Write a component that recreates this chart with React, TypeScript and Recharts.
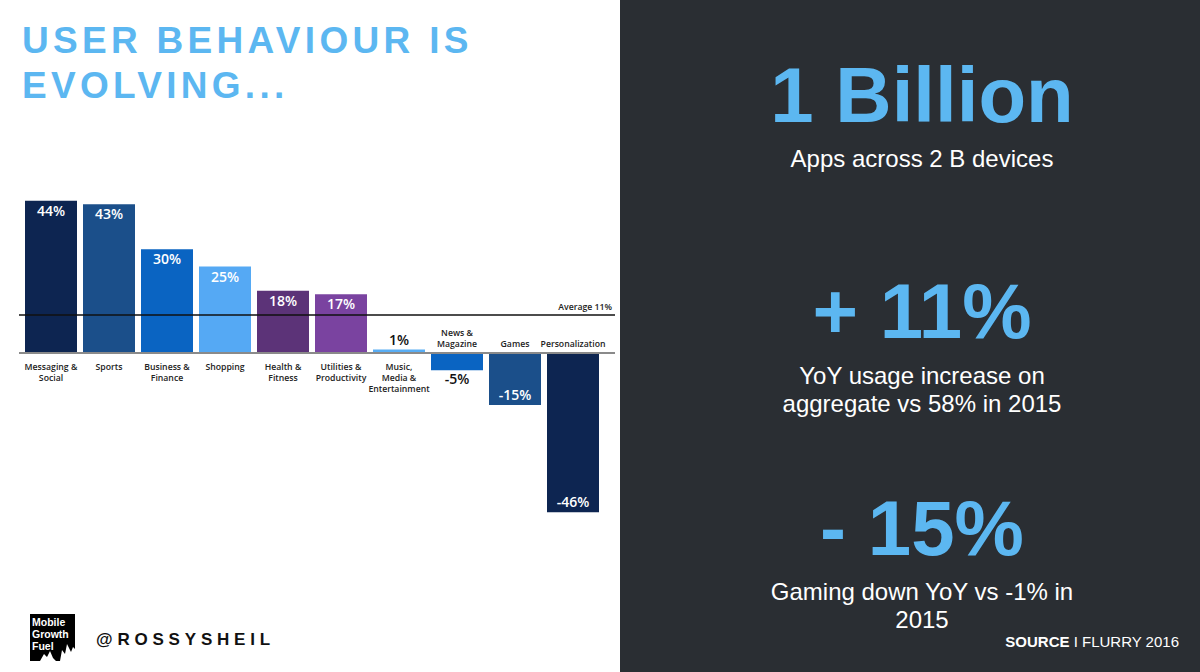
import React from 'react';
import { BarChart, Bar, XAxis, YAxis, Cell, LabelList, ReferenceLine } from 'recharts';

// Flurry 2016 - growth in time spent per app category
const categories = [
  'Messaging & Social',
  'Sports',
  'Business & Finance',
  'Shopping',
  'Health & Fitness',
  'Utilities & Productivity',
  'Music, Media & Entertainment',
  'News & Magazine',
  'Games',
  'Personalization',
];
const categoryLines = [
  ['Messaging &', 'Social'],
  ['Sports'],
  ['Business &', 'Finance'],
  ['Shopping'],
  ['Health &', 'Fitness'],
  ['Utilities &', 'Productivity'],
  ['Music,', 'Media &', 'Entertainment'],
  ['News &', 'Magazine'],
  ['Games'],
  ['Personalization'],
];
const growth = [44, 43, 30, 25, 18, 17, 1, -5, -15, -46];
const average = 11;

const barColors = [
  '#0d2551',
  '#1b4f8a',
  '#0a64c2',
  '#55a9f4',
  '#5c3378',
  '#7a43a0',
  '#58adf4',
  '#0a64c2',
  '#1b4f8a',
  '#0d2551',
];

const chartData = categories.map((name, i) => ({ name, value: growth[i] }));

const BLUE = '#5cb7f1';
const CHART_FONT = '"Open Sans", "DejaVu Sans", sans-serif';
const HEAD_FONT = '"Liberation Sans", Arial, Helvetica, sans-serif';

function ValueLabel(props: any) {
  const { x, y, width, height, value } = props;
  const top = Math.min(y, y + height);
  const bottom = Math.max(y, y + height);
  const h = bottom - top;
  const cx = x + width / 2;
  let ty: number;
  let fill: string;
  if (value >= 0) {
    if (h > 30) { ty = top + 15; fill = '#fff'; } else { ty = top - 5; fill = '#111'; }
  } else {
    if (h > 30) { ty = bottom - 5; fill = '#fff'; } else { ty = bottom + 14; fill = '#111'; }
  }
  return (
    <text x={cx} y={ty} textAnchor="middle" fill={fill} fontSize={14} fontWeight={600} fontFamily={CHART_FONT}>
      {value}%
    </text>
  );
}

function CategoryLabel(props: any) {
  const { x, y, width, height, index } = props;
  const lines = categoryLines[index] || [];
  const positive = growth[index] >= 0;
  const base = positive ? Math.max(y, y + height) : Math.min(y, y + height);
  const cx = x + width / 2;
  return (
    <text textAnchor="middle" fill="#222" fontSize={8.7} fontWeight={600} fontFamily={CHART_FONT}>
      {lines.map((line, i) => {
        const ly = positive ? base + 17 + i * 11 : base - 6 - (lines.length - 1 - i) * 11;
        return (
          <tspan key={i} x={cx} y={ly}>
            {line}
          </tspan>
        );
      })}
    </text>
  );
}

function AverageLabel(props: any) {
  const { viewBox } = props;
  return (
    <text
      x={viewBox.x + viewBox.width - 3}
      y={viewBox.y - 5}
      textAnchor="end"
      fill="#222"
      fontSize={8.7}
      fontWeight={600}
      fontFamily={CHART_FONT}
    >
      Average {average}%
    </text>
  );
}

export default function App() {
  return (
    <div style={{ position: 'absolute', left: 0, top: 0, width: 1200, height: 672, background: '#fff', overflow: 'hidden' }}>
      {/* title */}
      <svg width={620} height={120} style={{ position: 'absolute', left: 0, top: 0 }}>
        <text fill={BLUE} fontFamily={HEAD_FONT} fontWeight={700} fontSize={37} letterSpacing={4.3}>
          <tspan x={22} y={53}>USER BEHAVIOUR IS</tspan>
          <tspan x={22} y={98}>EVOLVING...</tspan>
        </text>
      </svg>

      <div style={{ position: 'absolute', left: 0, top: 0 }}>
        <BarChart
          width={620}
          height={672}
          data={chartData}
          margin={{ top: 180, right: 5, bottom: 146, left: 19 }}
        >
          <XAxis dataKey="name" hide padding={{ left: 3, right: 13 }} />
          <YAxis hide domain={[-50, 50]} />
          <Bar dataKey="value" barSize={52} isAnimationActive={false}>
            {chartData.map((d, i) => (
              <Cell key={d.name} fill={barColors[i]} />
            ))}
            <LabelList dataKey="value" content={ValueLabel} />
            <LabelList dataKey="name" content={CategoryLabel} />
          </Bar>
          <ReferenceLine y={0} stroke="#8a8a8a" strokeWidth={2} />
          <ReferenceLine y={average} stroke="#111" strokeWidth={1.5} label={AverageLabel} />
        </BarChart>
      </div>

      {/* footer */}
      <svg width={320} height={72} style={{ position: 'absolute', left: 0, top: 600 }}>
        <rect x={30} y={14} width={45} height={47} fill="#000" />
        <path d="M60 61 L62 50 L65 54 L67 44 L71 52 L73 47 L75 49 L75 61 Z" fill="#fff" />
        <path d="M40 61 L44 54 L47 57 L50 51 L53 58 L56 61 Z" fill="#fff" />
        <text fill="#fff" fontFamily={HEAD_FONT} fontWeight={700} fontSize={10.5}>
          <tspan x={32} y={26}>Mobile</tspan>
          <tspan x={32} y={38}>Growth</tspan>
          <tspan x={32} y={50}>Fuel</tspan>
        </text>
        <text x={96} y={45} fill="#111" fontFamily={HEAD_FONT} fontWeight={700} fontSize={17} letterSpacing={4.8}>
          @ROSSYSHEIL
        </text>
      </svg>

      {/* right panel */}
      <svg width={580} height={672} style={{ position: 'absolute', left: 620, top: 0 }}>
        <rect x={0} y={0} width={580} height={672} fill="#2a2e33" />
        <g fontFamily={HEAD_FONT} textAnchor="middle">
          <text x={302} y={122} fill={BLUE} fontSize={78} fontWeight={700}>1 Billion</text>
          <text x={302} y={167} fill="#fff" fontSize={24}>Apps across 2 B devices</text>

          <text x={302} y={338} fill={BLUE} fontSize={78} fontWeight={700}>+ 11%</text>
          <text x={302} y={384} fill="#fff" fontSize={24}>YoY usage increase on</text>
          <text x={302} y={412} fill="#fff" fontSize={24}>aggregate vs 58% in 2015</text>

          <text x={302} y={555} fill={BLUE} fontSize={78} fontWeight={700}>- 15%</text>
          <text x={302} y={600} fill="#fff" fontSize={24}>Gaming down YoY vs -1% in</text>
          <text x={302} y={628} fill="#fff" fontSize={24}>2015</text>
        </g>
        <text x={559} y={647} textAnchor="end" fill="#fff" fontFamily={HEAD_FONT} fontSize={15}>
          <tspan fontWeight={700}>SOURCE</tspan>
          <tspan> I FLURRY 2016</tspan>
        </text>
      </svg>
    </div>
  );
}
